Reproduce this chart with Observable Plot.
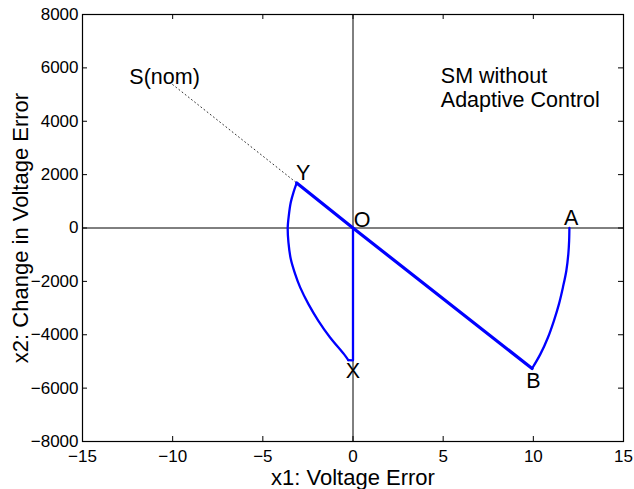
<!DOCTYPE html>
<html>
<head>
<meta charset="utf-8">
<script src="https://cdn.jsdelivr.net/npm/d3@7"></script>
<script src="https://cdn.jsdelivr.net/npm/@observablehq/plot@0.6"></script>
<style>
  html, body { margin: 0; padding: 0; background: white; }
</style>
</head>
<body>
<div id="chart"></div>
<script>
// Tick values
const xTicks = [-15, -10, -5, 0, 5, 10, 15];
const yTicks = [-8000, -6000, -4000, -2000, 0, 2000, 4000, 6000, 8000];

// Trajectory A -> B (arc)
const arcABx = [12, 11.985, 11.94, 11.83, 11.64, 11.42, 11.14, 10.81, 10.39, 9.93];
const arcABy = [0, -476, -976, -1601, -2226, -2851, -3476, -4101, -4726, -5265];

// Sliding line B -> O -> Y
const slideX = [9.93, 0, -3.12];
const slideY = [-5265, 0, 1687];

// Trajectory Y -> X (arc)
const arcYXx = [-3.12, -3.30, -3.45, -3.56, -3.62, -3.58, -3.45, -3.22, -2.93, -2.47, -1.92, -1.27, -0.50, -0.26];
const arcYXy = [1687, 1336, 961, 461, 0, -540, -1163, -1700, -2226, -2851, -3476, -4101, -4726, -4950];

// X -> O segment
const xoX = [-0.26, -0.05, 0, 0];
const xoY = [-4950, -4960, -4960, 0];

// Nominal sliding surface (dotted)
const nomX = [-10, -3.12];
const nomY = [5374, 1687];

// Point labels
const labelText = ["S(nom)", "Y", "O", "A", "B", "X"];
const labelX = [-10.45, -2.77, 0.5, 12.1, 10.0, 0];
const labelY = [5670, 2074, 311, 386, -5730, -5350];

const note = "SM without\nAdaptive Control";
const noteX = 4.87;
const noteY = 5280;

const toPts = (xs, ys) => xs.map((x, i) => ({x, y: ys[i]}));
const fmt = d => d < 0 ? "\u2212" + Math.abs(d) : String(d);

const W = 634, H = 489, mL = 82, mR = 11, mT = 14, mB = 48;
const iw = W - mL - mR, ih = H - mT - mB;
const tl = 5;

const chart = Plot.plot({
  width: W,
  height: H,
  marginLeft: mL,
  marginRight: mR,
  marginTop: mT,
  marginBottom: mB,
  x: {domain: [-15, 15]},
  y: {domain: [-8000, 8000]},
  style: {fontFamily: "'Liberation Sans', Arial, sans-serif", background: "white", color: "black"},
  marks: [
    Plot.ruleX([0], {stroke: "black", strokeWidth: 1}),
    Plot.ruleY([0], {stroke: "black", strokeWidth: 1}),
    Plot.line(toPts(nomX, nomY), {x: "x", y: "y", stroke: "#333", strokeWidth: 1, strokeDasharray: "1,3"}),
    Plot.line(toPts(arcABx, arcABy), {x: "x", y: "y", stroke: "#0000ff", strokeWidth: 2.3, curve: "catmull-rom"}),
    Plot.line(toPts(arcYXx, arcYXy), {x: "x", y: "y", stroke: "#0000ff", strokeWidth: 2.3, curve: "catmull-rom"}),
    Plot.line(toPts(xoX, xoY), {x: "x", y: "y", stroke: "#0000ff", strokeWidth: 2.3}),
    Plot.line(toPts(slideX, slideY), {x: "x", y: "y", stroke: "#0000ff", strokeWidth: 3.2}),
    Plot.text(labelText, {x: (d, i) => labelX[i], y: (d, i) => labelY[i], text: d => d, fontSize: 21.5, fill: "black"}),
    Plot.text([note], {x: noteX, y: noteY, text: d => d, textAnchor: "start", fontSize: 21.5, lineHeight: 1.15, fill: "black"}),
    // inward ticks on all sides
    Plot.tickX(xTicks, {x: d => d, insetTop: ih - tl, stroke: "black"}),
    Plot.tickX(xTicks, {x: d => d, insetBottom: ih - tl, stroke: "black"}),
    Plot.tickY(yTicks, {y: d => d, insetRight: iw - tl, stroke: "black"}),
    Plot.tickY(yTicks, {y: d => d, insetLeft: iw - tl, stroke: "black"}),
    Plot.axisX({ticks: xTicks, tickSize: 0, tickPadding: 8, fontSize: 17, tickFormat: fmt, label: null}),
    Plot.axisY({ticks: yTicks, tickSize: 0, tickPadding: 4, fontSize: 17, tickFormat: fmt, label: null}),
    Plot.frame({stroke: "black", strokeWidth: 1.2}),
    Plot.text(["x1: Voltage Error"], {frameAnchor: "bottom", lineAnchor: "middle", dy: 36, fontSize: 22, fill: "black"}),
    Plot.text(["x2: Change in Voltage Error"], {frameAnchor: "left", textAnchor: "middle", lineAnchor: "middle", dx: -62, rotate: -90, fontSize: 22, fill: "black"})
  ]
});
document.getElementById("chart").appendChild(chart);
</script>
</body>
</html>
